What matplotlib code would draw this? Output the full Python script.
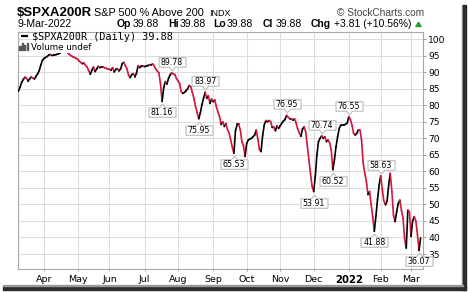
import numpy as np
import pandas as pd
import matplotlib
matplotlib.use("Agg")
import matplotlib.pyplot as plt
from matplotlib.collections import LineCollection
from matplotlib.path import Path
from matplotlib.transforms import offset_copy
import matplotlib.patches as mpatches

# % of S&P 500 stocks above their 200-day average, one value per trading day
pct_above_200 = [
    84.3, 85.5, 87.0, 87.8, 88.5, 88.3, 87.3, 88.0, 88.6, 88.2,
    88.0, 88.8, 89.5, 90.5, 92.2, 93.6, 94.2, 94.5, 94.8, 95.2,
    95.4, 95.1, 95.2, 95.3, 95.4, 95.6, 95.8, 96.3, 96.8, 97.0,
    96.5, 95.8, 95.4, 95.0, 94.7, 94.5, 94.2, 94.0, 93.4, 93.0,
    92.6, 92.8, 92.1, 91.6, 90.5, 89.4, 90.6, 91.6, 90.2, 91.0,
    91.8, 91.4, 91.6, 91.7, 91.3, 91.2, 91.0, 90.9, 90.6, 91.4,
    90.1, 90.9, 91.1, 90.4, 91.0, 92.6, 93.0, 92.0, 91.0, 89.1,
    88.4, 89.3, 89.6, 88.6, 89.8, 92.0, 91.4, 91.8, 91.8, 91.7,
    91.9, 92.0, 92.3, 92.2, 92.5, 92.0, 91.0, 90.4, 89.8, 86.5,
    81.16, 85.3, 87.2, 86.4, 88.1, 89.2, 89.78, 89.5, 89.3, 88.1,
    87.4, 86.6, 84.1, 83.6, 83.9, 84.4, 85.0, 86.0, 85.6, 83.8,
    82.0, 79.5, 77.8, 75.95, 77.8, 80.3, 82.2, 83.97, 82.1, 82.9,
    80.6, 81.9, 81.1, 81.6, 79.6, 78.0, 76.6, 74.2, 75.0, 73.6,
    74.5, 72.6, 71.6, 69.5, 67.3, 65.53, 72.3, 74.2, 74.2, 72.6,
    69.0, 67.8, 64.5, 68.5, 69.5, 69.8, 70.0, 70.5, 71.0, 72.5,
    69.8, 66.6, 66.0, 70.8, 74.0, 75.4, 75.0, 75.4, 75.1, 73.3,
    73.4, 72.3, 73.8, 73.0, 73.8, 74.6, 75.2, 75.7, 76.95, 76.4,
    76.0, 76.0, 75.5, 75.9, 74.6, 72.8, 71.7, 70.6, 72.8, 73.5,
    72.0, 67.8, 63.5, 59.3, 55.5, 53.91, 58.5, 65.0, 69.0, 70.0,
    70.74, 70.0, 70.5, 69.0, 69.5, 68.6, 66.5, 60.52, 63.5, 67.5,
    70.5, 73.0, 74.0, 74.0, 74.0, 74.3, 74.6, 76.55, 75.8, 74.0,
    71.5, 71.0, 71.5, 72.6, 72.5, 69.5, 62.5, 59.5, 57.0, 53.0,
    53.9, 50.0, 46.2, 41.88, 46.5, 51.5, 55.8, 58.63, 54.5, 51.0,
    49.9, 51.0, 55.9, 59.4, 53.9, 46.8, 44.8, 47.8, 50.3, 51.3,
    48.2, 45.8, 39.5, 36.8, 48.3, 47.8, 40.3, 45.0, 46.3, 45.0,
    41.0, 36.07, 39.88,
]

market_holidays = ["2021-04-02", "2021-05-31", "2021-07-05", "2021-09-06",
                   "2021-11-25", "2021-12-24", "2022-01-17", "2022-02-21"]

# labelled turning points: trading-day index and which side the box sits
peak_idx = [96, 117, 168, 190, 207, 227]
trough_idx = [90, 113, 135, 185, 197, 223, 251]

y_ticks = list(range(35, 101, 5))

RED = "#d7143c"

days = pd.bdate_range("2021-03-10", "2022-03-09")
days = days[~days.isin(pd.to_datetime(market_holidays))]
vals = np.array(pct_above_200)
xs = np.arange(len(vals))

W, H = 468, 292
fig = plt.figure(figsize=(W / 100, H / 100), dpi=100)
fig.patch.set_facecolor("white")


def fx(px):
    return px / W


def fy(py):
    return 1 - py / H


ax_l, ax_r, ax_t, ax_b = 18, 423, 32.3, 269.3
ax = fig.add_axes([fx(ax_l), fy(ax_b), (ax_r - ax_l) / W, (ax_b - ax_t) / H])
ax.set_xlim(-0.3, 253.5)
ax.set_ylim(30.37, 102.1)

# line coloured by direction: black up, red down
pts = np.column_stack([xs, vals])
segs = np.stack([pts[:-1], pts[1:]], axis=1)
cols = np.where(np.diff(vals) >= 0, "black", RED)
lc = LineCollection(segs, colors=cols, linewidths=1.2, capstyle="round", zorder=3)
ax.add_collection(lc)

# month ticks at the first trading day of each month
month_pos, month_lab = [], []
for i in range(1, len(days)):
    if days[i].month != days[i - 1].month:
        month_pos.append(i)
        month_lab.append("2022" if days[i].month == 1 else days[i].strftime("%b"))
ax.set_xticks(month_pos)
ax.set_xticklabels(month_lab, fontsize=6.8, family="DejaVu Sans")
for t in ax.get_xticklabels():
    if t.get_text() == "2022":
        t.set_fontweight("bold")
        t.set_fontsize(7.3)

ax.yaxis.tick_right()
ax.set_yticks(y_ticks)
ax.set_yticklabels([str(v) for v in y_ticks], fontsize=6.6)
ax.tick_params(axis="y", length=2.2, width=0.7, color="#a0a0a0", pad=1.6)
ax.tick_params(axis="x", length=1.6, width=0.7, color="#a0a0a0", pad=2.2)

ax.grid(True, color="#dcdcdc", lw=0.75, zorder=0)
ax.set_axisbelow(True)
for s in ax.spines.values():
    s.set_color("#a8a8a8")
    s.set_linewidth(0.8)


# callout boxes with a small pointer
def callout_path(up):
    hw, y0, y1, nw, tip = 13.5, 6.3, 15.8, 3.0, 2.6
    sgn = 1 if up else -1
    v = [(-hw, y0), (-nw, y0), (0, tip), (nw, y0), (hw, y0), (hw, y1), (-hw, y1), (-hw, y0)]
    v = [(a, sgn * b) for a, b in v]
    return Path(v, closed=True), 2 * 15.8 * 0.72


for idxs, up in ((peak_idx, True), (trough_idx, False)):
    path, ms = callout_path(up)
    for i in idxs:
        ax.plot(i, vals[i], marker=path, ms=ms, mfc="white", mec="#bcbcbc",
                mew=0.8, zorder=5, clip_on=False, ls="none")
        dy = 8.1 if up else -14.0
        tr = offset_copy(ax.transData, fig=fig, x=0, y=dy, units="dots")
        ax.text(i, vals[i], f"{vals[i]:.2f}", transform=tr, ha="center",
                va="baseline", fontsize=5.7, family="DejaVu Sans", zorder=6,
                clip_on=False)

# legend area inside the plot
ax_w, ax_h = ax_r - ax_l, ax_b - ax_t
ax.plot([(20.7 - ax_l) / ax_w, (27.5 - ax_l) / ax_w], [(ax_b - 36.3) / ax_h] * 2,
        transform=ax.transAxes, color="black", lw=1.6, solid_capstyle="butt",
        zorder=7, clip_on=False)
fig.text(fx(31.5), fy(40.2), "$SPXA200R (Daily) 39.88", fontsize=7.3,
         family="DejaVu Sans Mono", va="baseline", ha="left", zorder=7)
fig.text(fx(31.3), fy(49.6), "Volume undef", fontsize=6.3, family="DejaVu Sans",
         va="baseline", ha="left", zorder=7,
         bbox=dict(boxstyle="square,pad=0.12", fc="white", ec="none"))
for bx, bh in ((19.3, 4.0), (21.7, 6.5), (24.1, 5.0), (26.5, 7.0)):
    fig.patches.append(mpatches.Rectangle((fx(bx), fy(50)), 1.3 / W, bh / H,
                                          transform=fig.transFigure,
                                          color="#555555", zorder=8))

# header
fig.text(fx(17), fy(16.3), "$SPXA200R", fontsize=9.5, fontweight="bold",
         family="Liberation Sans", va="baseline")
fig.text(fx(94), fy(16.1), "S&P 500 % Above 200", fontsize=7.8,
         family="Liberation Sans", va="baseline")
fig.text(fx(209), fy(16.1), "INDX", fontsize=6.5, family="Liberation Sans",
         va="baseline")
fig.text(fx(424), fy(16.1), "\u00a9 StockCharts.com", fontsize=7.3,
         family="Liberation Sans", color="#444444", va="baseline", ha="right")

fig.text(fx(17), fy(26.8), "9-Mar-2022", fontsize=7.5, family="Liberation Sans",
         va="baseline")
quote = [(117, "Op", True), (133, "39.88", False), (168, "Hi", True),
         (180, "39.88", False), (213, "Lo", True), (227, "39.88", False),
         (263, "Cl", True), (276, "39.88", False), (311, "Chg", True),
         (334.5, "+3.81 (+10.56%)", False)]
for px, s, bold in quote:
    fig.text(fx(px), fy(26.8), s, fontsize=7.5, family="Liberation Sans",
             fontweight="bold" if bold else "normal", va="baseline")
fig.patches.append(mpatches.Polygon([(fx(415.8), fy(26.5)), (fx(421.2), fy(26.5)),
                                     (fx(418.5), fy(22.3))], closed=True,
                                    transform=fig.transFigure, color="#2f9a3c"))

# drop shadow on the right and bottom edges
fig.patches.append(mpatches.Rectangle((fx(461.8), fy(289.6)), 1.2 / W, 284.6 / H,
                                      transform=fig.transFigure, color="#9a9a9a"))
fig.patches.append(mpatches.Rectangle((fx(463), fy(289.6)), 3.2 / W, 284.6 / H,
                                      transform=fig.transFigure, color="#2c2c2c"))
fig.patches.append(mpatches.Rectangle((fx(2.5), fy(289.6)), 463.7 / W, 3.4 / H,
                                      transform=fig.transFigure, color="#2c2c2c"))
fig.patches.append(mpatches.Rectangle((fx(2.5), fy(286.2)), 460 / W, 1.0 / H,
                                      transform=fig.transFigure, color="#9a9a9a"))

fig.savefig("out.png", dpi=100, facecolor="white")
